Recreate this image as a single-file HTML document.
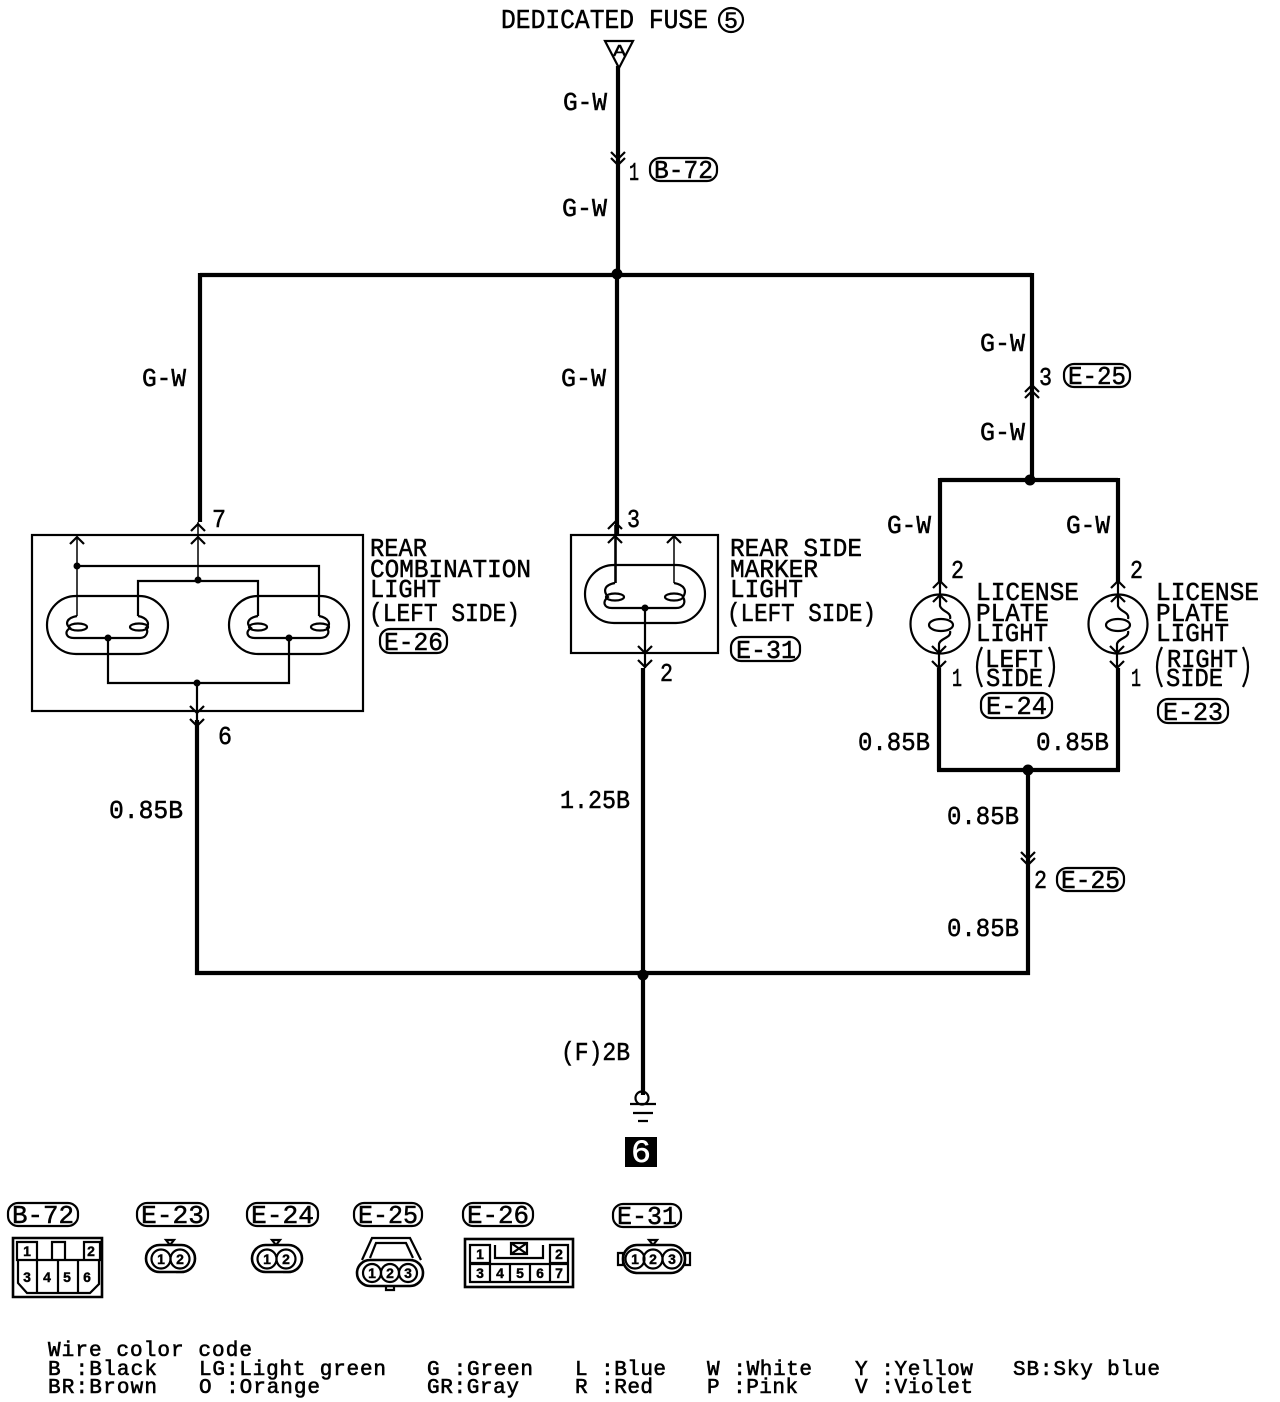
<!DOCTYPE html>
<html><head><meta charset="utf-8"><style>
html,body{margin:0;padding:0;background:#fff}
svg{display:block}
text{font-family:"Liberation Mono",monospace;fill:#000;stroke:#000;stroke-width:.5}
.s{font-family:"Liberation Mono",monospace;font-size:21px;stroke-width:.6}
.n{font-size:14px;font-weight:bold;text-anchor:middle;font-family:"Liberation Sans",sans-serif;stroke-width:.4}
.w{stroke:#000;stroke-width:4.2;fill:none}
.t{stroke:#000;stroke-width:2.2;fill:none}
.h{stroke:#000;stroke-width:1.5;fill:none}
.c{stroke:#000;stroke-width:2.6;fill:#fff}
</style></head><body>
<svg width="1280" height="1402" viewBox="0 0 1280 1402" xmlns="http://www.w3.org/2000/svg">
<rect width="1280" height="1402" fill="#fff"/>
<!-- thick wires -->
<path class="w" d="M618 66V275M617 275V535M200 275H1032M200 273V522M1032 273V480M940 480H1118M940 478V582M1118 478V582M939 668V771M1118 668V771M937 770H1120M1028 770V975M195 973H1030M197 720V975M643 668V1095"/>
<circle cx="617" cy="274" r="5.5"/><circle cx="1030" cy="480" r="5.5"/><circle cx="1028" cy="770" r="5.5"/><circle cx="643" cy="975" r="5.5"/>
<!-- top -->
<path class="t" d="M605 41H633L619 68Z"/>
<text x="613" y="56" font-size="17" textLength="13" lengthAdjust="spacingAndGlyphs">A</text>
<text x="501" y="28" font-size="27" textLength="207" lengthAdjust="spacingAndGlyphs">DEDICATED FUSE</text>
<circle cx="731" cy="20" r="12" class="t"/><text x="724" y="28" font-size="23" textLength="14" lengthAdjust="spacingAndGlyphs">5</text>
<path class="t" d="M611 152L618 159L625 152M611 158L618 165L625 158M1025 392L1032 385L1039 392M1025 398L1032 391L1039 398M1021 852L1028 859L1035 852M1021 858L1028 865L1035 858"/>
<!-- wire labels -->
<g font-size="26">
<text x="563" y="110" textLength="44" lengthAdjust="spacingAndGlyphs">G-W</text>
<text x="562" y="216" textLength="45" lengthAdjust="spacingAndGlyphs">G-W</text>
<text x="142" y="386" textLength="44" lengthAdjust="spacingAndGlyphs">G-W</text>
<text x="561" y="386" textLength="45" lengthAdjust="spacingAndGlyphs">G-W</text>
<text x="980" y="351" textLength="45" lengthAdjust="spacingAndGlyphs">G-W</text>
<text x="980" y="440" textLength="45" lengthAdjust="spacingAndGlyphs">G-W</text>
<text x="887" y="533" textLength="44" lengthAdjust="spacingAndGlyphs">G-W</text>
<text x="1066" y="533" textLength="44" lengthAdjust="spacingAndGlyphs">G-W</text>
<text x="858" y="750" textLength="72" lengthAdjust="spacingAndGlyphs">0.85B</text>
<text x="1036" y="750" textLength="73" lengthAdjust="spacingAndGlyphs">0.85B</text>
<text x="109" y="818" textLength="74" lengthAdjust="spacingAndGlyphs">0.85B</text>
<text x="560" y="808" textLength="70" lengthAdjust="spacingAndGlyphs">1.25B</text>
<text x="947" y="824" textLength="72" lengthAdjust="spacingAndGlyphs">0.85B</text>
<text x="947" y="936" textLength="72" lengthAdjust="spacingAndGlyphs">0.85B</text>
<text x="561" y="1060" textLength="69" lengthAdjust="spacingAndGlyphs">(F)2B</text>
<!-- pins -->
<text x="629" y="180" textLength="10" lengthAdjust="spacingAndGlyphs">1</text>
<text x="1039" y="385" textLength="13" lengthAdjust="spacingAndGlyphs">3</text>
<text x="212" y="527" textLength="14" lengthAdjust="spacingAndGlyphs">7</text>
<text x="218" y="744" textLength="14" lengthAdjust="spacingAndGlyphs">6</text>
<text x="627" y="527" textLength="13" lengthAdjust="spacingAndGlyphs">3</text>
<text x="660" y="681" textLength="13" lengthAdjust="spacingAndGlyphs">2</text>
<text x="951" y="578" textLength="13" lengthAdjust="spacingAndGlyphs">2</text>
<text x="1130" y="578" textLength="13" lengthAdjust="spacingAndGlyphs">2</text>
<text x="952" y="686" textLength="10" lengthAdjust="spacingAndGlyphs">1</text>
<text x="1131" y="686" textLength="10" lengthAdjust="spacingAndGlyphs">1</text>
<text x="1034" y="888" textLength="13" lengthAdjust="spacingAndGlyphs">2</text>
<!-- component names -->
<text x="370" y="556" textLength="57" lengthAdjust="spacingAndGlyphs">REAR</text>
<text x="370" y="577" textLength="161" lengthAdjust="spacingAndGlyphs">COMBINATION</text>
<text x="370" y="597" textLength="71" lengthAdjust="spacingAndGlyphs">LIGHT</text>
<text x="369" y="621" textLength="151" lengthAdjust="spacingAndGlyphs">(LEFT SIDE)</text>
<text x="730" y="556" textLength="132" lengthAdjust="spacingAndGlyphs">REAR SIDE</text>
<text x="730" y="577" textLength="88" lengthAdjust="spacingAndGlyphs">MARKER</text>
<text x="730" y="597" textLength="73" lengthAdjust="spacingAndGlyphs">LIGHT</text>
<text x="727" y="621" textLength="149" lengthAdjust="spacingAndGlyphs">(LEFT SIDE)</text>
<text x="976" y="600" textLength="103" lengthAdjust="spacingAndGlyphs">LICENSE</text>
<text x="976" y="621" textLength="73" lengthAdjust="spacingAndGlyphs">PLATE</text>
<text x="976" y="641" textLength="72" lengthAdjust="spacingAndGlyphs">LIGHT</text>
<text x="985" y="667" textLength="58" lengthAdjust="spacingAndGlyphs">LEFT</text>
<text x="986" y="686" textLength="57" lengthAdjust="spacingAndGlyphs">SIDE</text>
<text x="1156" y="600" textLength="103" lengthAdjust="spacingAndGlyphs">LICENSE</text>
<text x="1156" y="621" textLength="73" lengthAdjust="spacingAndGlyphs">PLATE</text>
<text x="1156" y="641" textLength="73" lengthAdjust="spacingAndGlyphs">LIGHT</text>
<text x="1167" y="667" textLength="71" lengthAdjust="spacingAndGlyphs">RIGHT</text>
<text x="1166" y="686" textLength="57" lengthAdjust="spacingAndGlyphs">SIDE</text>
</g>
<path class="t" d="M982 647Q972 667 982 687M1049 647Q1059 667 1049 687M1162 647Q1152 667 1162 687M1243 647Q1253 667 1243 687"/>
<!-- pills -->
<g>
<rect x="650" y="158" width="67" height="23" rx="10" class="t"/>
<rect x="1064" y="364" width="66" height="23" rx="10" class="t"/>
<rect x="380" y="629" width="67" height="24" rx="10" class="t"/>
<rect x="731" y="637" width="69" height="24" rx="10" class="t"/>
<rect x="981" y="693" width="71" height="25" rx="10" class="t"/>
<rect x="1158" y="699" width="70" height="24" rx="10" class="t"/>
<rect x="1057" y="868" width="67" height="23" rx="10" class="t"/>
<rect x="8" y="1203" width="70" height="23" rx="10" class="t"/>
<rect x="137" y="1203" width="71" height="23" rx="10" class="t"/>
<rect x="247" y="1203" width="71" height="23" rx="10" class="t"/>
<rect x="354" y="1203" width="68" height="23" rx="10" class="t"/>
<rect x="463" y="1203" width="70" height="23" rx="10" class="t"/>
<rect x="613" y="1204" width="68" height="23" rx="10" class="t"/>
</g>
<g font-size="26">
<text x="654" y="178" textLength="59" lengthAdjust="spacingAndGlyphs">B-72</text>
<text x="1068" y="384" textLength="58" lengthAdjust="spacingAndGlyphs">E-25</text>
<text x="384" y="650" textLength="59" lengthAdjust="spacingAndGlyphs">E-26</text>
<text x="736" y="658" textLength="60" lengthAdjust="spacingAndGlyphs">E-31</text>
<text x="986" y="714" textLength="61" lengthAdjust="spacingAndGlyphs">E-24</text>
<text x="1163" y="720" textLength="60" lengthAdjust="spacingAndGlyphs">E-23</text>
<text x="1061" y="888" textLength="59" lengthAdjust="spacingAndGlyphs">E-25</text>
<text x="12" y="1223" textLength="62" lengthAdjust="spacingAndGlyphs">B-72</text>
<text x="141" y="1223" textLength="63" lengthAdjust="spacingAndGlyphs">E-23</text>
<text x="251" y="1223" textLength="63" lengthAdjust="spacingAndGlyphs">E-24</text>
<text x="358" y="1223" textLength="60" lengthAdjust="spacingAndGlyphs">E-25</text>
<text x="467" y="1223" textLength="62" lengthAdjust="spacingAndGlyphs">E-26</text>
<text x="617" y="1224" textLength="60" lengthAdjust="spacingAndGlyphs">E-31</text>
</g>
<!-- Rear combination light -->
<rect x="32" y="535" width="331" height="176" class="t"/>
<rect x="47" y="596" width="121" height="58" rx="29" class="t"/>
<rect x="229" y="596" width="120" height="58" rx="29" class="t"/>
<path class="h" d="M77 537V616M198 522V580"/>
<path class="t" d="M77 566H319V616M138 616V581H258V616M108 638V683H289V638M197 683V730"/>
<circle cx="77" cy="566" r="3.5"/><circle cx="198" cy="580" r="3.5"/><circle cx="108" cy="638" r="3.5"/><circle cx="289" cy="638" r="3.5"/><circle cx="197" cy="683" r="3.5"/>
<path class="t" d="M77 616C66 618 65 624 70 628C64 632 66 638 74 638H140C146 638 149 632 146 628C150 624 148 618 138 616M258 616C247 618 246 624 251 628C245 632 247 638 255 638H320C328 638 330 632 327 628C331 624 329 618 319 616"/>
<ellipse cx="78" cy="627" rx="9" ry="3.5" class="t"/><ellipse cx="139" cy="627" rx="9" ry="3.5" class="t"/><ellipse cx="258" cy="627" rx="9" ry="3.5" class="t"/><ellipse cx="320" cy="627" rx="9" ry="3.5" class="t"/>
<path class="t" d="M70 544L77 537L84 544M191 531L198 524L205 531M191 544L198 537L205 544M190 706L197 713L204 706M190 719L197 726L204 719"/>
<!-- Rear side marker -->
<rect x="571" y="535" width="147" height="118" class="t"/>
<rect x="585" y="565" width="120" height="58" rx="29" class="t"/>
<path class="w" style="stroke-width:2.6" d="M615.500 525V583"/>
<path class="h" d="M674 537V583"/>
<path class="t" d="M645 608V668M615 583C604 585 603 591 608 597C602 602 604 608 612 608H676C684 608 686 602 683 597C687 591 685 585 674 583"/>
<ellipse cx="615" cy="597" rx="9" ry="3.500" class="t"/><ellipse cx="674" cy="597" rx="9" ry="3.500" class="t"/>
<circle cx="645" cy="608" r="3.500"/>
<path class="t" d="M608 529L615 522L622 529M608 543L615 536L622 543M667 543L674 536L681 543M638 646L645 653L652 646M638 660L645 667L652 660"/>
<!-- License lights -->
<circle cx="940" cy="624" r="29.500" class="t"/><circle cx="1118" cy="624" r="29.500" class="t"/>
<ellipse cx="941" cy="625" rx="12" ry="6" class="t"/><ellipse cx="1118" cy="625" rx="12" ry="6" class="t"/>
<path class="t" d="M940 582V606C942 612 952 612 950 619M950 631C952 638 940 638 939 644V668M1118 582V606C1120 612 1130 612 1128 619M1128 631C1130 638 1118 638 1117 644V668"/>
<path class="t" d="M933 588L940 581L947 588M933 602L940 595L947 602M932 646L939 653L946 646M932 661L939 668L946 661M1111 588L1118 581L1125 588M1111 602L1118 595L1125 602M1110 646L1117 653L1124 646M1110 661L1117 668L1124 661"/>
<!-- Ground -->
<circle cx="642" cy="1098" r="6.500" class="t"/>
<path class="t" d="M630 1104H656M633 1113H653M638 1121H648"/>
<rect x="625" y="1137" width="32" height="30"/>
<text x="631" y="1162" font-size="32" textLength="20" lengthAdjust="spacingAndGlyphs" style="fill:#fff;stroke:#fff">6</text>
<!-- B-72 connector -->
<path class="c" d="M13 1238H102V1297H13Z" />
<path class="t" d="M17 1242H37V1260H17ZM37 1260H84M84 1242H100V1260H84ZM52 1260V1242H65V1260M18 1260V1283L27 1293H90L99 1284V1260M37 1260V1293M58 1260V1293M78 1260V1293"/>
<text class="n" x="27" y="1256">1</text><text class="n" x="91" y="1256">2</text><text class="n" x="27" y="1282">3</text><text class="n" x="47" y="1282">4</text><text class="n" x="67" y="1282">5</text><text class="n" x="87" y="1282">6</text>
<!-- E-23 -->
<path class="t" d="M166 1240H174L170 1245ZM176 1272H184"/>
<rect x="146" y="1245" width="49" height="27" rx="13.500" class="c"/>
<circle cx="161" cy="1259" r="9.500" class="t"/><circle cx="180" cy="1259" r="9.500" class="t"/>
<text class="n" x="161" y="1264">1</text><text class="n" x="180" y="1264">2</text>
<!-- E-24 -->
<path class="t" d="M272 1240H280L276 1245ZM283 1272H291"/>
<rect x="252" y="1245" width="50" height="27" rx="13.500" class="c"/>
<circle cx="267" cy="1259" r="9.500" class="t"/><circle cx="286" cy="1259" r="9.500" class="t"/>
<text class="n" x="267" y="1264">1</text><text class="n" x="286" y="1264">2</text>
<!-- E-25 -->
<path class="t" d="M362 1260L372 1238H410L421 1260M370 1258L376 1243H406L413 1258M386 1286H394V1290H386Z"/>
<rect x="357" y="1260" width="66" height="26" rx="13" class="c"/>
<circle cx="372" cy="1273" r="9" class="t"/><circle cx="390" cy="1273" r="9" class="t"/><circle cx="408" cy="1273" r="9" class="t"/>
<text class="n" x="372" y="1278">1</text><text class="n" x="390" y="1278">2</text><text class="n" x="408" y="1278">3</text>
<!-- E-26 -->
<rect x="465" y="1239" width="108" height="48" class="c"/>
<path class="t" d="M470 1245H490V1263H470ZM550 1245H568V1263H550ZM470 1264H568V1282H470ZM490 1264V1282M510 1264V1282M530 1264V1282M550 1264V1282M495 1245V1258H543V1245M511 1243H527V1254H511ZM511 1243L527 1254M527 1243L511 1254"/>
<text class="n" x="480" y="1259">1</text><text class="n" x="559" y="1259">2</text><text class="n" x="480" y="1278">3</text><text class="n" x="500" y="1278">4</text><text class="n" x="520" y="1278">5</text><text class="n" x="540" y="1278">6</text><text class="n" x="559" y="1278">7</text>
<!-- E-31 -->
<path class="t" d="M649 1240H657L653 1245ZM618 1253H623V1265H618ZM685 1253H690V1265H685Z"/>
<rect x="623" y="1245" width="62" height="28" rx="14" class="c"/>
<circle cx="635" cy="1259" r="9.500" class="t"/><circle cx="653" cy="1259" r="9.500" class="t"/><circle cx="672" cy="1259" r="9.500" class="t"/>
<text class="n" x="635" y="1264">1</text><text class="n" x="653" y="1264">2</text><text class="n" x="672" y="1264">3</text>
<!-- legend -->
<g>
<text class="s" x="48" y="1356" textLength="204" lengthAdjust="spacing">Wire color  code</text>
<text class="s" x="48" y="1375" textLength="109" lengthAdjust="spacing">B :Black</text>
<text class="s" x="199" y="1375" textLength="187" lengthAdjust="spacing">LG:Light green</text>
<text class="s" x="427" y="1375" textLength="106" lengthAdjust="spacing">G :Green</text>
<text class="s" x="575" y="1375" textLength="91" lengthAdjust="spacing">L :Blue</text>
<text class="s" x="707" y="1375" textLength="105" lengthAdjust="spacing">W :White</text>
<text class="s" x="855" y="1375" textLength="118" lengthAdjust="spacing">Y :Yellow</text>
<text class="s" x="1013" y="1375" textLength="147" lengthAdjust="spacing">SB:Sky blue</text>
<text class="s" x="48" y="1393" textLength="109" lengthAdjust="spacing">BR:Brown</text>
<text class="s" x="199" y="1393" textLength="121" lengthAdjust="spacing">O :Orange</text>
<text class="s" x="427" y="1393" textLength="92" lengthAdjust="spacing">GR:Gray</text>
<text class="s" x="575" y="1393" textLength="78" lengthAdjust="spacing">R :Red</text>
<text class="s" x="707" y="1393" textLength="91" lengthAdjust="spacing">P :Pink</text>
<text class="s" x="855" y="1393" textLength="118" lengthAdjust="spacing">V :Violet</text>
</g>
</svg>
</body></html>
